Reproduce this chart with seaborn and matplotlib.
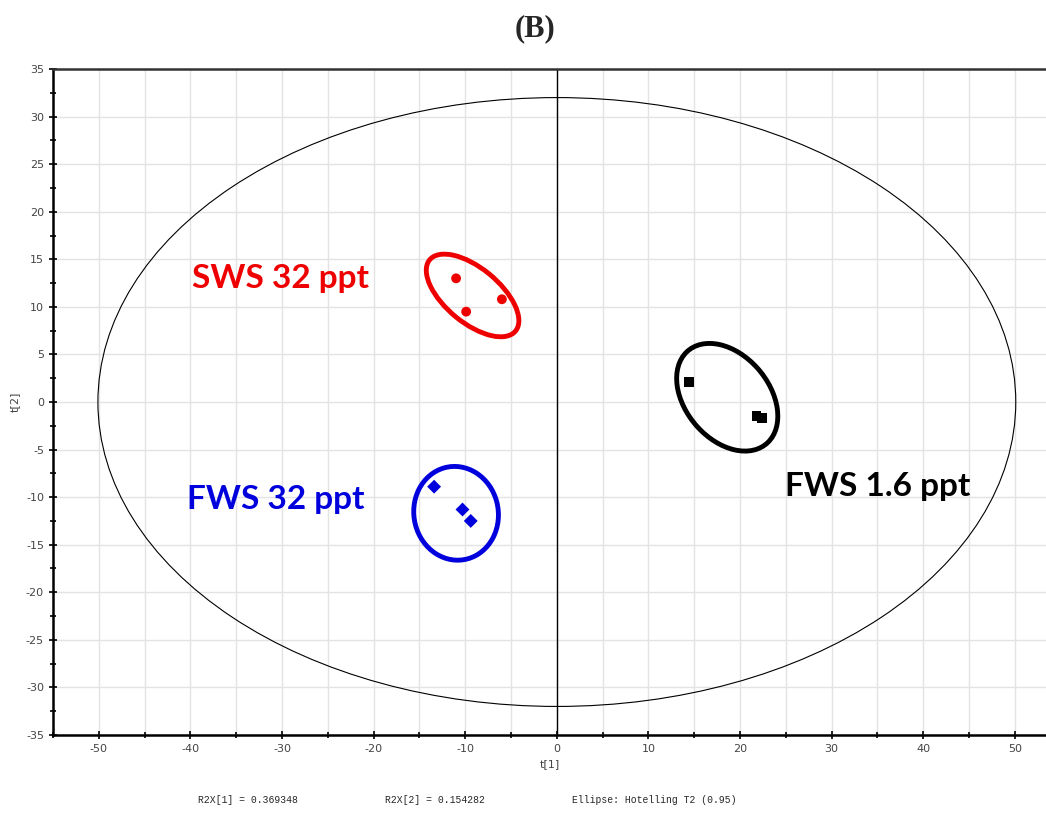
import numpy as np
import pandas as pd
import matplotlib.pyplot as plt
import seaborn as sns
from matplotlib.patches import Ellipse
from matplotlib.ticker import MultipleLocator

# score values
groups = ["SWS 32 ppt"] * 3 + ["FWS 32 ppt"] * 3 + ["FWS 1.6 ppt"] * 3
t1 = [-11.0, -9.9, -6.0, -13.4, -10.3, -9.4, 14.4, 21.8, 22.4]
t2 = [13.0, 9.5, 10.8, -8.9, -11.3, -12.5, 2.1, -1.5, -1.7]

group_names = ["SWS 32 ppt", "FWS 32 ppt", "FWS 1.6 ppt"]
group_colors = ["#ee0000", "#0000dd", "#000000"]
group_markers = ["o", "D", "s"]

# group ellipses: center x, center y, width, height, angle
ell_cx = [-9.2, -11.0, 18.6]
ell_cy = [11.2, -11.7, 0.5]
ell_w = [12.0, 9.2, 13.0]
ell_h = [5.8, 9.9, 9.0]
ell_ang = [-38, 15, -47]

# Hotelling T2 (0.95) ellipse semi axes
t2_a = 50.1
t2_b = 32.0

r2x = [0.369348, 0.154282]

df = pd.DataFrame({"t1": t1, "t2": t2, "group": groups})

sns.set_style("white")
plt.rcParams["axes.unicode_minus"] = False
fig = plt.figure(figsize=(10.46, 8.18), dpi=100)
ax = fig.add_axes([0.0507, 0.1015, 0.9493, 0.8141])

ax.set_xlim(-55, 53.4)
ax.set_ylim(-35, 35)

ax.xaxis.set_major_locator(MultipleLocator(10))
ax.xaxis.set_minor_locator(MultipleLocator(5))
ax.yaxis.set_major_locator(MultipleLocator(5))
ax.yaxis.set_minor_locator(MultipleLocator(2.5))
ax.grid(True, which="major", axis="both", color="#e3e3e3", lw=1)
ax.grid(True, which="minor", axis="x", color="#e3e3e3", lw=1)
ax.set_axisbelow(True)

ax.add_patch(Ellipse((0, 0), 2 * t2_a, 2 * t2_b, fill=False, ec="black", lw=0.8))
ax.axvline(0, color="black", lw=1)

for cx, cy, w, h, a, c in zip(ell_cx, ell_cy, ell_w, ell_h, ell_ang, group_colors):
    ax.add_patch(Ellipse((cx, cy), w, h, angle=a, fill=False, ec=c, lw=3.5))

sns.scatterplot(data=df, x="t1", y="t2", hue="group", style="group",
                hue_order=group_names, style_order=group_names,
                palette=dict(zip(group_names, group_colors)),
                markers=dict(zip(group_names, group_markers)),
                s=50, edgecolor="none", legend=False, ax=ax, zorder=5)

label_font = ["Lato", "DejaVu Sans"]
ax.text(-39.8, 13.0, "SWS 32 ppt", color=group_colors[0], fontsize=24,
        fontweight="bold", family=label_font, va="center")
ax.text(-40.4, -10.3, "FWS 32 ppt", color=group_colors[1], fontsize=24,
        fontweight="bold", family=label_font, va="center")
ax.text(24.9, -8.9, "FWS 1.6 ppt", color=group_colors[2], fontsize=24,
        fontweight="bold", family=label_font, va="center")

for side in ["left", "bottom"]:
    ax.spines[side].set_color("black")
    ax.spines[side].set_linewidth(1.8)
ax.spines["top"].set_color("#333333")
ax.spines["top"].set_linewidth(1.8)
ax.spines["right"].set_visible(False)

ax.tick_params(which="both", direction="inout", color="black", width=1.2,
               labelsize=8, labelcolor="#444444", bottom=True, left=True)
ax.tick_params(which="major", length=6)
ax.tick_params(which="minor", length=4)

ax.set_xlabel("t[1]", fontsize=8, color="#444444", labelpad=4)
ax.set_ylabel("t[2]", fontsize=8, color="#444444", labelpad=4)

fig.text(0.511, 0.9645, "(B)", ha="center", va="center", fontsize=22,
         fontweight="bold", family="Liberation Serif")

mono = "Liberation Mono"
fig.text(0.189, 0.022, f"R2X[1] = {r2x[0]:.6f}", fontsize=7, family=mono, va="center")
fig.text(0.368, 0.022, f"R2X[2] = {r2x[1]:.6f}", fontsize=7, family=mono, va="center")
fig.text(0.547, 0.022, "Ellipse: Hotelling T2 (0.95)", fontsize=7, family=mono, va="center")

fig.savefig("out.png", dpi=100)
